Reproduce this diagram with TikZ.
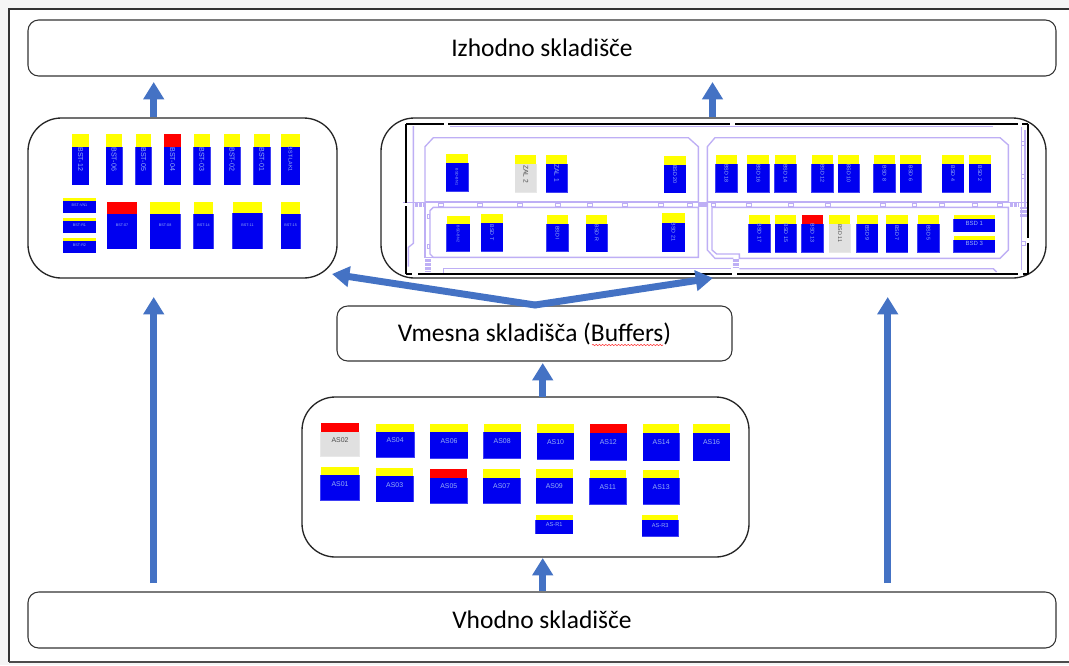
\documentclass[tikz,border=0pt]{standalone}
\usepackage{fontspec}
\setmainfont{Carlito}
\newfontfamily\arialf{Liberation Sans}
\usetikzlibrary{arrows.meta,decorations.pathmorphing}
\definecolor{arrowblue}{RGB}{68,114,196}
\definecolor{capyellow}{RGB}{255,255,0}
\definecolor{capred}{RGB}{255,0,0}
\definecolor{bodyblue}{RGB}{0,0,240}
\definecolor{bodygrey}{RGB}{224,224,224}
\definecolor{planline}{RGB}{190,175,245}
\definecolor{lablight}{RGB}{150,175,245}
\newcount\blkn
\tikzset{
  panel/.style={draw=black!85,line width=1pt,rounded corners=25,fill=white},
  titlebox/.style={draw=black!80,line width=.8pt,rounded corners=8,fill=white,font=\fontsize{19.1}{21}\selectfont},
  flow/.style={draw=arrowblue,line width=5.2pt,-{Triangle[length=13pt,width=15pt]}},
  plan/.style={draw=planline,line width=1pt},
  lab/.style={},
  vlab/.style={text=lablight,rotate=-90,inner sep=0pt,font=\arialf\fontsize{5.3}{5.3}\selectfont},
}
% x1,x2,ytop,ymid,ybot,ylabel;{cap}{body}{label}
\def\blk#1,#2,#3,#4,#5,#6;#7#8#9{%
  \fill[#8!75!white] (#1-1.5,#4) rectangle (#2+1.5,#5+1.5);
  \fill[#7] (#1,#3) rectangle (#2,#4);
  \fill[#8] (#1,#4) rectangle (#2,#5);
  \global\advance\blkn by 1
  \node[lab] (blk\the\blkn) at ({(#1+#2)/2},#6) {#9};
}
\begin{document}
\begin{tikzpicture}[x=.75pt,y=-.75pt]
\useasboundingbox (0,0) rectangle (1069,665);
\fill[black!4] (0,0) rectangle (1069,665);
\fill[white] (9,9) rectangle (1069,662);
\draw[black!80,line width=.9pt] (1069,9) -- (9,9) -- (9,662);
\draw[black!70,line width=1.4pt] (9,662) -- (1069,662);

\node[titlebox,minimum width=1028*.75pt,minimum height=56*.75pt] (out) at (542,48) {Izhodno skladišče};
\node[titlebox,minimum width=1028*.75pt,minimum height=56*.75pt] (in) at (542,620) {Vhodno skladišče};
\node[titlebox,minimum width=395*.75pt,minimum height=55*.75pt] (buf) at (534.5,333.5) {Vmesna skladišča (Buffers)};
\draw[red!80!white,line width=.4pt,decorate,decoration={snake,amplitude=.5pt,segment length=2.4pt}] (592,345) -- (663,345);

\node[panel,minimum width=309*.75pt,minimum height=160*.75pt] (left) at (182.5,198) {};
\node[panel,minimum width=665*.75pt,minimum height=160*.75pt] (right) at (713.5,198) {};
\node[panel,minimum width=447*.75pt,minimum height=160*.75pt] (low) at (525.5,477) {};

% left panel
\begin{scope}[shift={(20,110)},x=.25pt,y=-.25pt]
\tikzset{lab/.style={vlab}}
\blk 157,206,72,110,224,148;{capyellow}{bodyblue}{BST-12}
\blk 258,306,72,110,224,148;{capyellow}{bodyblue}{BST-06}
\blk 347,394,72,110,224,148;{capyellow}{bodyblue}{BST-05}
\blk 433,482,72,110,224,148;{capred}{bodyblue}{BST-04}
\blk 521,570,72,110,224,148;{capyellow}{bodyblue}{BST-03}
\blk 612,660,72,110,224,148;{capyellow}{bodyblue}{BST-02}
\blk 701,750,72,110,224,148;{capyellow}{bodyblue}{BST-01}
\tikzset{lab/.style={vlab,font=\arialf\fontsize{4}{4}\selectfont}}
\blk 783,839,72,110,224,148;{capyellow}{bodyblue}{BST-LAK1}
\tikzset{lab/.style={text=lablight,inner sep=0pt,font=\arialf\fontsize{2.8}{3}\selectfont}}
\blk 130,227,263,274,308,286;{capyellow}{bodyblue}{BST-VN1}
\blk 130,227,323,334,368,345;{capyellow}{bodyblue}{BST-R1}
\blk 130,227,383,394,428,405;{capyellow}{bodyblue}{BST-R2}
\blk 262,350,277,312,416,346;{capred}{bodyblue}{BST-07}
\blk 391,480,276,311,416,346;{capyellow}{bodyblue}{BST-08}
\blk 521,580,276,311,416,346;{capyellow}{bodyblue}{BST-14}
\blk 638,727,276,310,416,345;{capyellow}{bodyblue}{BST-11}
\blk 784,840,276,311,416,346;{capyellow}{bodyblue}{BST-15}
\end{scope}

% right panel: plan lines and black frame
\begin{scope}[shift={(380,110)},x=.25pt,y=-.25pt]
\draw[plan] (135,110) -- (160,83) -- (925,83) -- (955,110) -- (955,275) -- (135,275) -- cycle;
\draw[plan] (150,302) -- (160,292) -- (955,292) -- (955,442) -- (160,442) -- (150,432) -- cycle;
\draw[plan] (135,275) -- (135,442) -- (160,442);
\draw[plan] (70,278) -- (985,278);
\draw[plan] (100,48) -- (100,400) -- (85,412) -- (85,470);
\draw[plan] (190,488) -- (190,476) -- (985,476);
\draw[plan] (210,50) -- (1020,50);
\foreach \xx in {105,109,113,117,121,125,129,133,955,959,963,967,971,975,979}
  \draw[planline,line width=.6pt] (\xx,278) -- (\xx,292);
\foreach \yy in {447,451,455,459,463,467,471,475,479,483}
  \draw[planline,line width=.6pt] (135,\yy) -- (153,\yy);
\foreach \xx in {183,300,420,533,630,735,843,930}
  \draw[planline,line width=.5pt] (\xx-7,281) rectangle (\xx+7,288);
\foreach \yy in {320,408}
  \draw[planline,line width=.5pt] (143,\yy-6) rectangle (149,\yy+6);
\tikzset{lab/.style={vlab,font=\arialf\fontsize{2.8}{3}\selectfont}}
\blk 198,264,132,158,243,201;{capyellow}{bodyblue}{BSD-BN1}
\blk 200,269,318,343,423,372;{capyellow}{bodyblue}{BSD-BN2}
\tikzset{lab/.style={vlab,text=black!70,font=\arialf\fontsize{5}{5}\selectfont}}
\blk 406,469,136,163,247,192;{capyellow}{bodygrey}{ZAL 2}
\tikzset{lab/.style={vlab,font=\arialf\fontsize{5}{5}\selectfont}}
\blk 498,562,135,161,246,190;{capyellow}{bodyblue}{ZAL 1}
\tikzset{lab/.style={vlab,font=\arialf\fontsize{4}{4}\selectfont}}
\blk 853,917,138,165,248,193;{capyellow}{bodyblue}{BSD 20}
\blk 304,368,313,340,423,368;{capyellow}{bodyblue}{BSD T}
\blk 500,564,315,342,424,369;{capyellow}{bodyblue}{BSD I}
\blk 618,682,315,342,425,369;{capyellow}{bodyblue}{BSD R}
\blk 847,914,310,338,425,366;{capyellow}{bodyblue}{BSD 21}
\end{scope}
\begin{scope}[shift={(700,110)},x=.25pt,y=-.25pt]
\draw[plan] (22,110) -- (45,83) -- (900,83) -- (925,105) -- (925,275) -- (22,275) -- cycle;
\draw[plan] (36,292) -- (925,292) -- (925,420) -- (900,445) -- (118,445) -- (118,432) -- (50,432) -- (36,420) -- cycle;
\draw[plan] (22,275) -- (22,420) -- (45,445) -- (100,445);
\draw[plan] (-30,278) -- (985,278);
\draw[plan] (118,476) -- (880,476) -- (890,486);
\draw[plan] (-30,476) -- (92,476);
\draw[plan] (965,50) -- (965,480);
\draw[plan] (975,60) -- (975,290);
\draw[plan] (-10,50) -- (880,50);
\foreach \xx in {930,934,938,942,946,950,954,-2,2,6,10,14,18}
  \draw[planline,line width=.6pt] (\xx,278) -- (\xx,292);
\foreach \yy in {447,451,455,459,463,467,471}
  \draw[planline,line width=.6pt] (98,\yy) -- (116,\yy);
\foreach \yy in {292,296,300,304,308,312,316,320}
  \draw[planline,line width=.6pt] (960,\yy) -- (980,\yy);
\foreach \xx in {40,147,272,383,549,643,726,825,900}
  \draw[planline,line width=.5pt] (\xx-7,281) rectangle (\xx+7,288);
\foreach \yy in {100,200,400}
  \draw[planline,line width=.5pt] (965,\yy-6) rectangle (975,\yy+6);
\tikzset{lab/.style={vlab,font=\arialf\fontsize{4}{4}\selectfont}}
\blk 47,111,136,163,247,190;{capyellow}{bodyblue}{BSD 18}
\blk 142,208,136,163,247,190;{capyellow}{bodyblue}{BSD 16}
\blk 224,288,136,163,247,190;{capyellow}{bodyblue}{BSD 14}
\blk 335,399,136,163,247,190;{capyellow}{bodyblue}{BSD 12}
\blk 414,478,136,163,247,190;{capyellow}{bodyblue}{BSD 10}
\blk 521,585,136,163,247,190;{capyellow}{bodyblue}{BSD 8}
\blk 600,664,136,163,247,190;{capyellow}{bodyblue}{BSD 6}
\blk 727,791,136,163,247,190;{capyellow}{bodyblue}{BSD 4}
\blk 807,872,136,163,247,190;{capyellow}{bodyblue}{BSD 2}
\blk 146,210,315,342,426,369;{capyellow}{bodyblue}{BSD 17}
\blk 226,289,315,342,426,369;{capyellow}{bodyblue}{BSD 15}
\blk 305,369,315,342,426,369;{capred}{bodyblue}{BSD 13}
\tikzset{lab/.style={vlab,text=black!70,font=\arialf\fontsize{4}{4}\selectfont}}
\blk 388,451,315,342,426,369;{capyellow}{bodygrey}{BSD 11}
\tikzset{lab/.style={vlab,font=\arialf\fontsize{4}{4}\selectfont}}
\blk 470,533,315,342,426,369;{capyellow}{bodyblue}{BSD 9}
\blk 559,623,315,342,426,369;{capyellow}{bodyblue}{BSD 7}
\blk 653,717,315,342,426,369;{capyellow}{bodyblue}{BSD 5}
\tikzset{lab/.style={text=lablight,inner sep=0pt,font=\arialf\fontsize{4.5}{5}\selectfont}}
\blk 761,884,316,328,365,340;{capyellow}{bodyblue}{BSD 1}
\blk 761,884,377,389,426,401;{capyellow}{bodyblue}{BSD 3}
\end{scope}
\draw[black,line width=1.7pt] (406,124) -- (1028,124) (406,274) -- (1028,274) (406,124) -- (406,274) (1028,124) -- (1028,274);
% gaps in the black frame
\fill[white] (444,122) rectangle (448,126);
\fill[white] (730,122) rectangle (735,126);
\fill[white] (1018,122) rectangle (1022,126);
\fill[white] (412,272) rectangle (418,276);
\fill[white] (732,272) rectangle (737,276);
\fill[white] (1018,272) rectangle (1023,276);
\fill[white] (404,203) rectangle (408,206);
\fill[white] (1026,238) rectangle (1030,243);

% lower panel
\begin{scope}[shift={(300,395)},x=.25pt,y=-.25pt]
\tikzset{lab/.style={text=black!70,inner sep=0pt,font=\arialf\fontsize{5.2}{5.2}\selectfont}}
\blk 62,178,85,110,184,134;{capred}{bodygrey}{AS02}
\tikzset{lab/.style={text=lablight,inner sep=0pt,font=\arialf\fontsize{5.2}{5.2}\selectfont}}
\blk 228,343,86,110,186,135;{capyellow}{bodyblue}{AS04}
\blk 391,503,87,112,190,138;{capyellow}{bodyblue}{AS06}
\blk 551,662,87,112,190,138;{capyellow}{bodyblue}{AS08}
\blk 712,821,88,114,192,140;{capyellow}{bodyblue}{AS10}
\blk 870,980,88,115,195,141;{capred}{bodyblue}{AS12}
\blk 1029,1138,88,115,197,142;{capyellow}{bodyblue}{AS14}
\blk 1180,1289,88,115,197,142;{capyellow}{bodyblue}{AS16}
\blk 62,178,217,241,316,266;{capyellow}{bodyblue}{AS01}
\blk 228,340,219,244,320,269;{capyellow}{bodyblue}{AS03}
\blk 391,502,221,248,324,273;{capred}{bodyblue}{AS05}
\blk 550,660,222,248,324,272;{capyellow}{bodyblue}{AS07}
\blk 708,818,223,248,325,273;{capyellow}{bodyblue}{AS09}
\blk 869,978,224,250,328,275;{capyellow}{bodyblue}{AS11}
\blk 1029,1138,224,250,328,275;{capyellow}{bodyblue}{AS13}
\tikzset{lab/.style={text=lablight,inner sep=0pt,font=\arialf\fontsize{4.2}{4.2}\selectfont}}
\blk 707,818,360,375,416,388;{capyellow}{bodyblue}{AS-R1}
\blk 1026,1135,360,376,423,391;{capyellow}{bodyblue}{AS-R3}
\end{scope}

% arrows
\coordinate (aL1) at (153.7,117); \coordinate (aL1t) at (153.7,82);
\coordinate (aR1) at (712.5,117); \coordinate (aR1t) at (712.5,82);
\coordinate (aL2) at (153.7,583); \coordinate (aL2t) at (153.7,297);
\coordinate (aR2) at (887.7,583); \coordinate (aR2t) at (887.7,297);
\coordinate (aB) at (542.7,397); \coordinate (aBt) at (542.7,363);
\coordinate (aI) at (542.7,591); \coordinate (aIt) at (542.7,558);
\coordinate (fork) at (535,305);
\coordinate (forkL) at (332,274);
\coordinate (forkR) at (713,278);
\draw[flow] (aL1) -- (aL1t);
\draw[flow] (aR1) -- (aR1t);
\draw[flow] (aL2) -- (aL2t);
\draw[flow] (aR2) -- (aR2t);
\draw[flow] (aB) -- (aBt);
\draw[flow] (aI) -- (aIt);
\draw[flow,line cap=round] (fork) -- (forkL);
\draw[flow,line cap=round] (fork) -- (forkR);
\end{tikzpicture}
\end{document}
